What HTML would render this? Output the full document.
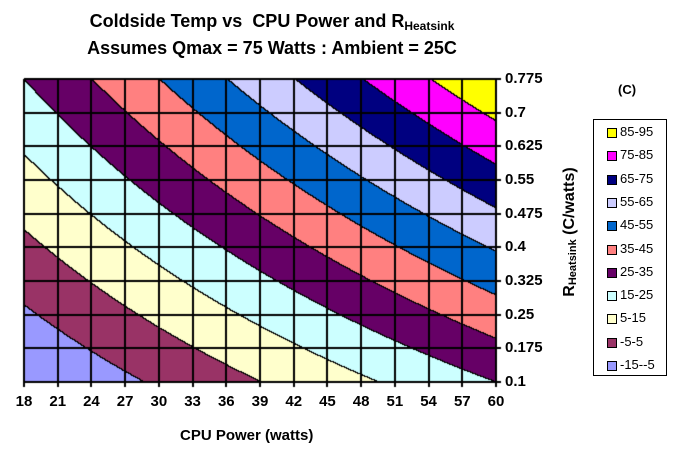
<!DOCTYPE html>
<html><head><meta charset="utf-8"><style>
body{margin:0;background:#fff;width:699px;height:474px;overflow:hidden;position:relative;font-family:"Liberation Sans",Arial,sans-serif;font-weight:bold}
.t{position:absolute;white-space:nowrap}
canvas{position:absolute;left:0;top:0}
</style></head><body>
<canvas id="c" width="699" height="474"></canvas>
<div class="t" style="left:0;width:544px;text-align:center;top:11px;font-size:18px">Coldside Temp vs&nbsp; CPU Power and R<sub style="font-size:12px;vertical-align:-3px">Heatsink</sub></div>
<div class="t" style="left:0;width:544px;text-align:center;top:38px;font-size:18px">Assumes Qmax = 75 Watts : Ambient = 25C</div>
<div class="t" style="left:180px;top:427px;font-size:15px">CPU Power (watts)</div>
<div class="t" style="left:570px;top:232px;font-size:16px;transform:translate(-50%,-50%) rotate(-90deg);transform-origin:center">R<sub style="font-size:11px;vertical-align:-2px">Heatsink</sub> (C/watts)</div>
<div class="t" style="left:618px;top:82px;font-size:13px">(C)</div>
<div id="lab"></div>
<script>
var c=document.getElementById('c').getContext('2d');
var L=24,R=496,T=79,B=382,W=R-L,H=B-T;
var cols=['#9999FF','#993366','#FFFFCC','#CCFFFF','#660066','#FF8080','#0066CC','#CCCCFF','#000080','#FF00FF','#FFFF00'];
function temp(P,r){return -15.3+0.957*(P-18)+59.7*(r-0.1)+1.036*(P-18)*(r-0.1);}
function band(x,y){var P=18+(x-L)/W*42,r=0.775-(y-T)/H*0.675;var t=temp(P,r);var b=Math.floor((t+15)/10);return Math.max(0,Math.min(10,b));}
var img=c.createImageData(W,H);
function hex(h){return [parseInt(h.substr(1,2),16),parseInt(h.substr(3,2),16),parseInt(h.substr(5,2),16)];}
var rgb=cols.map(hex);
for(var y=0;y<H;y++)for(var x=0;x<W;x++){var b=band(L+x+0.5,T+y+0.5);var col=rgb[b];
if(x>0&&band(L+x-0.5,T+y+0.5)!=b||y>0&&band(L+x+0.5,T+y-0.5)!=b)col=[0,0,0];
var i=(y*W+x)*4;img.data[i]=col[0];img.data[i+1]=col[1];img.data[i+2]=col[2];img.data[i+3]=255;}
c.putImageData(img,L,T);
c.fillStyle='#000';
for(var i=0;i<=14;i++){var x=Math.round(L+i*W/14);c.fillRect(x-1,T,2,H+5);}
for(var j=0;j<=9;j++){var y=Math.round(T+j*H/9);c.fillRect(L,y-1,W+5,2);}
var h='';
for(var i=0;i<=14;i++){var x=L+i*W/14;h+='<div class="t" style="left:'+(x-20)+'px;width:40px;text-align:center;top:393px;font-size:15px">'+(18+3*i)+'</div>';}
var yl=['0.775','0.7','0.625','0.55','0.475','0.4','0.325','0.25','0.175','0.1'];
for(var j=0;j<=9;j++){var y=T+j*H/9;h+='<div class="t" style="left:505px;top:'+(y-9)+'px;font-size:15px">'+yl[j]+'</div>';}
h+='<div class="t" style="left:593px;top:119px;width:72px;height:255px;border:1px solid #000"></div>';
var ln=['85-95','75-85','65-75','55-65','45-55','35-45','25-35','15-25','5-15','-5-5','-15--5'];
for(var k=0;k<11;k++){var y=132+k*23.3;h+='<div class="t" style="left:607px;top:'+(y-4)+'px;width:8px;height:8px;border:1px solid #000;background:'+cols[10-k]+'"></div><div class="t" style="left:620px;top:'+(y-8)+'px;font-size:13px;font-weight:normal">'+ln[k]+'</div>';}
document.getElementById('lab').innerHTML=h;
</script>
</body></html>
